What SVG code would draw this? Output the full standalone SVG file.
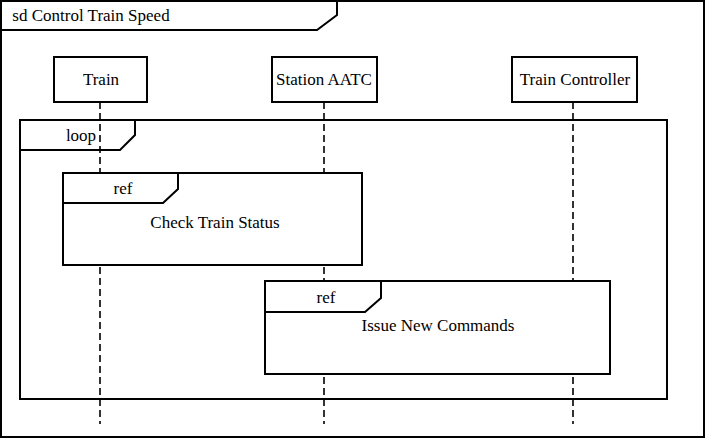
<svg xmlns="http://www.w3.org/2000/svg" width="705" height="438" viewBox="0 0 705 438">
<rect width="705" height="438" fill="#fff"/>
<g id="frame">
<rect x="1" y="1" width="703" height="436" fill="none" stroke="#000" stroke-width="2"/>
<path d="M1 1 H337 V15 L317 30 H1 Z" fill="#fff" stroke="#000" stroke-width="2"/>
<text x="91" y="21" style="font-family:'Liberation Serif',serif;font-size:17px" text-anchor="middle">sd Control Train Speed</text>
</g>
<g id="loop">
<rect x="20" y="120" width="647" height="279" fill="none" stroke="#000" stroke-width="2"/>
<path d="M20 120 H135 V135 L120 150 H20" fill="none" stroke="#000" stroke-width="2"/>
</g>
<g id="connectors" stroke="#000" stroke-width="1.6" stroke-dasharray="7 4" fill="none">
<line x1="100" y1="102" x2="100" y2="424"/>
<line x1="324" y1="102" x2="324" y2="424"/>
<line x1="573" y1="102" x2="573" y2="424"/>
</g>
<g id="loop-label"><text x="81" y="141" style="font-family:'Liberation Serif',serif;font-size:17px" text-anchor="middle">loop</text></g>
<g id="train">
<rect x="54" y="57" width="93" height="45" fill="#fff" stroke="#000" stroke-width="2"/>
<text x="101" y="85" style="font-family:'Liberation Serif',serif;font-size:17px" text-anchor="middle">Train</text>
</g>
<g id="station-aatc">
<rect x="272" y="57" width="105" height="45" fill="#fff" stroke="#000" stroke-width="2"/>
<text x="324" y="85" style="font-family:'Liberation Serif',serif;font-size:17px" text-anchor="middle">Station AATC</text>
</g>
<g id="train-controller">
<rect x="512" y="57" width="125" height="45" fill="#fff" stroke="#000" stroke-width="2"/>
<text x="575" y="85" style="font-family:'Liberation Serif',serif;font-size:17px" text-anchor="middle">Train Controller</text>
</g>
<g id="ref-check">
<rect x="63" y="173" width="299" height="92" fill="#fff" stroke="#000" stroke-width="2"/>
<path d="M63 173 H178 V189 L163 203 H63" fill="none" stroke="#000" stroke-width="2"/>
<text x="123" y="194" style="font-family:'Liberation Serif',serif;font-size:17px" text-anchor="middle">ref</text>
<text x="215" y="228" style="font-family:'Liberation Serif',serif;font-size:17px" text-anchor="middle">Check Train Status</text>
</g>
<g id="ref-issue">
<rect x="265" y="281" width="345" height="93" fill="#fff" stroke="#000" stroke-width="2"/>
<path d="M265 281 H381 V298 L365 312 H265" fill="none" stroke="#000" stroke-width="2"/>
<text x="326" y="303" style="font-family:'Liberation Serif',serif;font-size:17px" text-anchor="middle">ref</text>
<text x="438" y="331" style="font-family:'Liberation Serif',serif;font-size:17px" text-anchor="middle">Issue New Commands</text>
</g>
</svg>
